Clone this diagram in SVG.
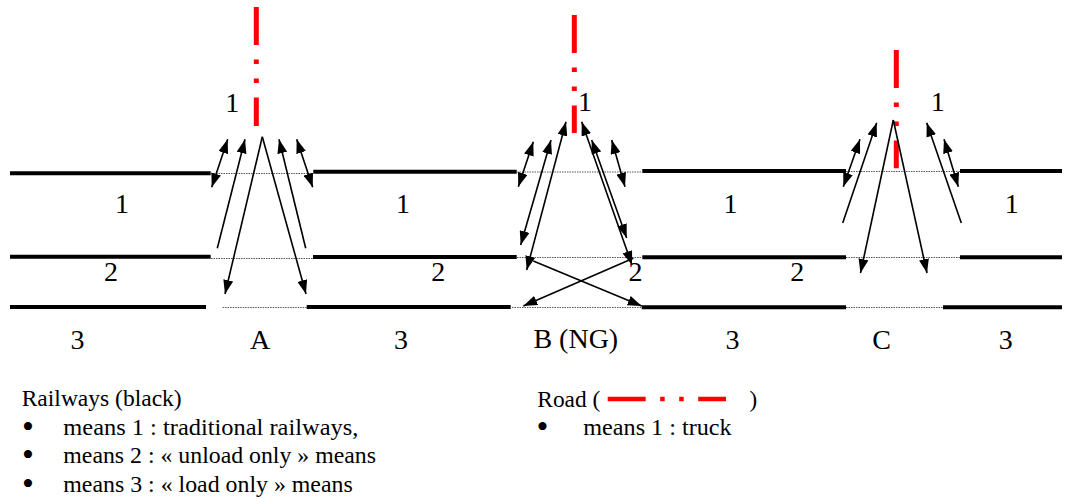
<svg xmlns="http://www.w3.org/2000/svg" width="1074" height="500" viewBox="0 0 1074 500">
<style>
.rail{stroke:#000;stroke-width:4;fill:none}
.gap{stroke:#555;stroke-width:1;stroke-dasharray:1.5 1;fill:none}
.road{stroke:#ff0000;stroke-width:5;fill:none;stroke-dasharray:38 14.5 4.5 14.5 4.5 14.5 200}
.arr{stroke:#000;stroke-width:1.6;fill:none;marker-end:url(#ah)}
.dbl{marker-start:url(#ah)}
.lbl{font-family:"Liberation Serif","Times New Roman",serif;font-size:28px;fill:#000;text-anchor:middle}
.leg{font-family:"Liberation Serif","Times New Roman",serif;font-size:23px;fill:#000}
.bul{text-anchor:middle;font-size:34px}
</style>
<defs>
<marker id="ah" viewBox="0 0 14 10" refX="14" refY="5" markerWidth="14" markerHeight="10" markerUnits="userSpaceOnUse" orient="auto-start-reverse">
<path d="M0,0 L14,5 L0,10 z" fill="#000"/>
</marker>
</defs>

<g id="tracks">
<line class="rail" x1="10" y1="173.3" x2="210.7" y2="173.3"/>
<line class="rail" x1="313.3" y1="171.7" x2="516.7" y2="171.7"/>
<line class="rail" x1="642.3" y1="171" x2="846" y2="171"/>
<line class="rail" x1="960" y1="171" x2="1062" y2="171"/>
<line class="rail" x1="10" y1="256.7" x2="210.7" y2="256.7"/>
<line class="rail" x1="313" y1="257" x2="516.7" y2="257"/>
<line class="rail" x1="642.3" y1="257.3" x2="846" y2="257.3"/>
<line class="rail" x1="960" y1="257.3" x2="1062" y2="257.3"/>
<line class="rail" x1="10" y1="307" x2="206" y2="307"/>
<line class="rail" x1="306.7" y1="307" x2="510.7" y2="307"/>
<line class="rail" x1="641.7" y1="307.3" x2="846" y2="307.3"/>
<line class="rail" x1="943" y1="307.3" x2="1062" y2="307.3"/>
<line class="gap" x1="211" y1="173.5" x2="313" y2="173.5"/>
<line class="gap" x1="517" y1="172" x2="642" y2="172"/>
<line class="gap" x1="846" y1="171.5" x2="960" y2="171.5"/>
<line class="gap" x1="211" y1="258.5" x2="313" y2="258.5"/>
<line class="gap" x1="517" y1="257.5" x2="642" y2="257.5"/>
<line class="gap" x1="846" y1="257.5" x2="960" y2="257.5"/>
<line class="gap" x1="222.7" y1="307.5" x2="306.7" y2="307.5"/>
<line class="gap" x1="512" y1="307.5" x2="641.7" y2="307.5"/>
<line class="gap" x1="846" y1="307.5" x2="943" y2="307.5"/>
</g>

<g id="roads">
<line class="road" x1="256.3" y1="7" x2="256.3" y2="126"/>
<line class="road" x1="574.3" y1="15" x2="574.3" y2="133"/>
<line class="road" x1="896.3" y1="50" x2="896.3" y2="168.3"/>
</g>

<g id="connectors">
<line class="arr dbl" x1="227.7" y1="139.3" x2="211.7" y2="187.3"/>
<line class="arr" x1="217.3" y1="248.3" x2="245" y2="139.3"/>
<line class="arr" x1="262.3" y1="136.7" x2="225" y2="294"/>
<line class="arr" x1="262.3" y1="136.7" x2="306" y2="294"/>
<line class="arr" x1="305.7" y1="248.3" x2="279" y2="139.3"/>
<line class="arr dbl" x1="296.7" y1="139.3" x2="312.7" y2="187.3"/>

<line class="arr dbl" x1="533.3" y1="141.7" x2="518.3" y2="186.7"/>
<line class="arr dbl" x1="551" y1="140" x2="520.7" y2="245"/>
<line class="arr dbl" x1="566" y1="121.7" x2="526.7" y2="270"/>
<line class="arr dbl" x1="581.7" y1="121.7" x2="632" y2="265"/>
<line class="arr dbl" x1="591.7" y1="140" x2="626.7" y2="238"/>
<line class="arr dbl" x1="611.7" y1="140" x2="625" y2="186.7"/>
<line class="arr" x1="533.3" y1="261" x2="641.7" y2="306"/>
<line class="arr" x1="633.3" y1="258.3" x2="523.3" y2="306"/>

<line class="arr dbl" x1="860" y1="139.3" x2="843.3" y2="186.7"/>
<line class="arr" x1="842.7" y1="223" x2="876.7" y2="122.7"/>
<line class="arr" x1="893.3" y1="120" x2="860.5" y2="273"/>
<line class="arr" x1="893.3" y1="120" x2="927" y2="273"/>
<line class="arr" x1="961.3" y1="223" x2="926.7" y2="122.7"/>
<line class="arr dbl" x1="944" y1="139.3" x2="958.3" y2="186.7"/>
</g>

<g id="labels">
<text class="lbl" x="232.2" y="111.5">1</text>
<text class="lbl" x="585" y="111">1</text>
<text class="lbl" x="937.8" y="111">1</text>
<text class="lbl" x="122" y="213.3">1</text>
<text class="lbl" x="403" y="213.3">1</text>
<text class="lbl" x="730.5" y="213.3">1</text>
<text class="lbl" x="1011.7" y="213.3">1</text>
<text class="lbl" x="111" y="280.7">2</text>
<text class="lbl" x="438.3" y="280.7">2</text>
<text class="lbl" x="635.5" y="280.5">2</text>
<text class="lbl" x="797.3" y="280.7">2</text>
<text class="lbl" x="77.5" y="349">3</text>
<text class="lbl" x="401" y="349">3</text>
<text class="lbl" x="732.5" y="349">3</text>
<text class="lbl" x="1005.8" y="349">3</text>
<text class="lbl" x="260" y="348.5">A</text>
<text class="lbl" x="575.8" y="347.5">B (NG)</text>
<text class="lbl" x="881.7" y="348.5">C</text>
</g>

<g id="legend-railways">
<text class="leg" x="21.7" y="406" textLength="160" lengthAdjust="spacingAndGlyphs">Railways (black)</text>
<text class="leg bul" x="28" y="437.5">•</text>
<text class="leg bul" x="28" y="466">•</text>
<text class="leg bul" x="28" y="494.5">•</text>
<text class="leg" x="63.3" y="434.5" textLength="295" lengthAdjust="spacingAndGlyphs">means 1 : traditional railways,</text>
<text class="leg" x="63.3" y="463" textLength="312.7" lengthAdjust="spacingAndGlyphs">means 2 : « unload only » means</text>
<text class="leg" x="63.3" y="491.5" textLength="289.4" lengthAdjust="spacingAndGlyphs">means 3 : « load only » means</text>
</g>

<g id="legend-road">
<text class="leg" x="537.3" y="406.7" textLength="63" lengthAdjust="spacingAndGlyphs">Road (</text>
<line class="road" x1="607.7" y1="399" x2="726" y2="399" style="stroke-width:4.5"/>
<text class="leg" x="749.5" y="406.7">)</text>
<text class="leg bul" x="542.5" y="437.5">•</text>
<text class="leg" x="583.3" y="434.5" textLength="148.4" lengthAdjust="spacingAndGlyphs">means 1 : truck</text>
</g>
</svg>
